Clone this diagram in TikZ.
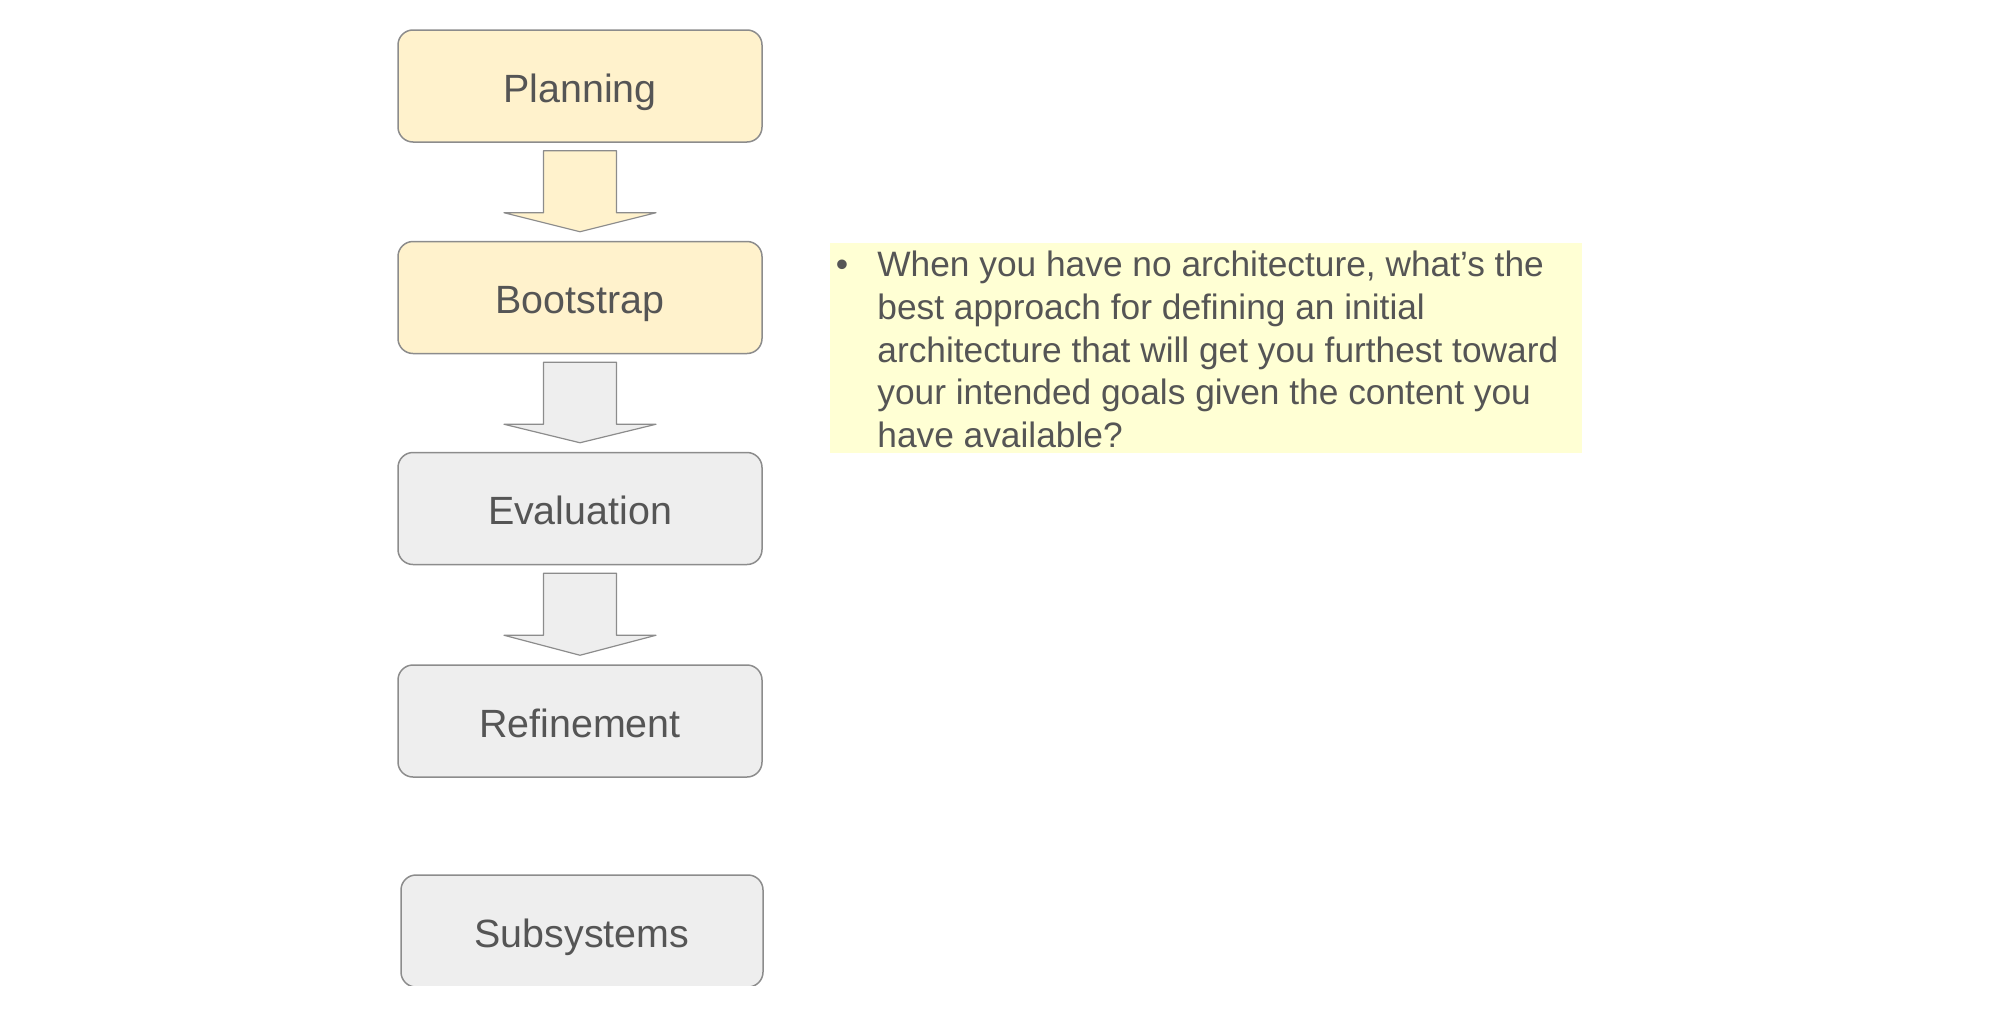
\documentclass[tikz,border=0pt]{standalone}
\usepackage{fontspec}
\setmainfont{Liberation Sans}
\usetikzlibrary{calc}
\definecolor{planfill}{HTML}{FFF2CC}
\definecolor{greyfill}{HTML}{EEEEEE}
\definecolor{edgegrey}{HTML}{8C8C8C}
\definecolor{inkgrey}{HTML}{555555}
\definecolor{notefill}{HTML}{FFFFD4}
\tikzset{
  stage/.style={draw=edgegrey, line width=0.75pt, rounded corners=7.5pt,
    minimum width=182pt, minimum height=56pt, text=inkgrey,
    text height=16pt, text depth=0pt,
    font=\fontsize{19.7}{24}\selectfont},
  blockarrow/.style={draw=edgegrey, line width=0.6pt, line join=round},
  notetext/.style={text=inkgrey, inner sep=0pt,
    font=\fontsize{17.65}{21.3}\selectfont},
}
\begin{document}
\begin{tikzpicture}[x=0.5pt,y=-0.5pt]
  \useasboundingbox (0,0) rectangle (2002,1012);
  \clip (0,0) rectangle (2002,985);
  \node[stage, fill=planfill] (plan) at (580,86) {Planning};
  \node[stage, fill=planfill] (boot) at (580,297.5) {Bootstrap};
  \node[stage, fill=greyfill] (eval) at (580,508.5) {Evaluation};
  \node[stage, fill=greyfill] (refine) at (580,721) {Refinement};
  \node[stage, fill=greyfill, minimum width=181pt] (subsys) at (582,931) {Subsystems};
  \foreach \a/\b/\c in {plan/boot/planfill, boot/eval/greyfill, eval/refine/greyfill}
    \draw[blockarrow, fill=\c] ($(\a.south)+(-36.5,8)$) -- ++(0,62) -- ++(-39.5,0)
      -- ($(\b.north)+(0,-9)$) -- ($(\a.south)+(76,70)$) -- ++(-39.5,0)
      -- ++(0,-62) -- cycle;
  \node[fill=notefill, minimum width=376pt, minimum height=105pt, inner sep=0pt]
    (note) at (1206,348) {};
  \node[notetext] (dot) at (842,268) {•};
  \node[notetext, anchor=north west, align=left] (ask) at (877,251)
    {When you have no architecture, what’s the\\
     best approach for defining an initial\\
     architecture that will get you furthest toward\\
     your intended goals given the content you\\
     have available?};
\end{tikzpicture}
\end{document}
